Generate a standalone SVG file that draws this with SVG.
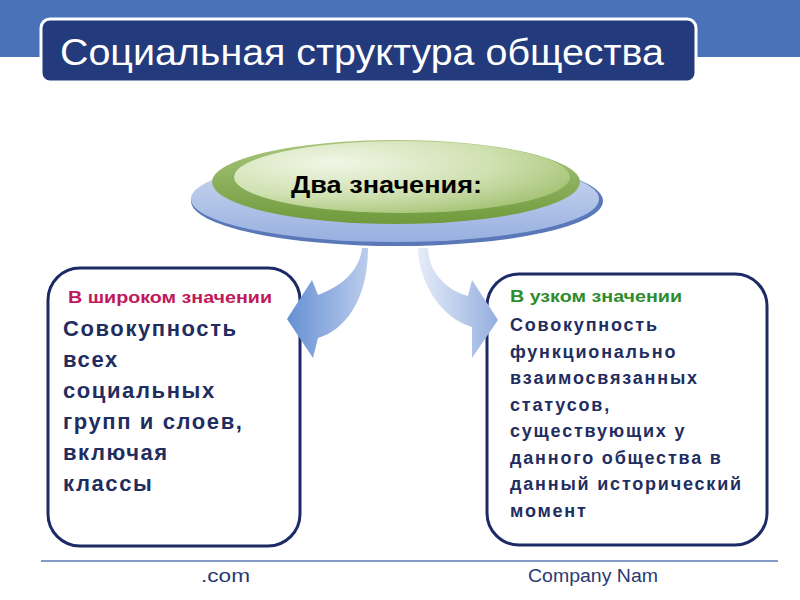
<svg xmlns="http://www.w3.org/2000/svg" width="800" height="600" viewBox="0 0 800 600">
<defs>
<style>
.t{font-family:"Liberation Sans",Arial,sans-serif;}
.b{font-weight:bold;}
.body{fill:#1f2d5f;font-weight:bold;font-family:"Liberation Sans",Arial,sans-serif;}
.box{fill:#ffffff;stroke:#1c2a66;stroke-width:3;}
.foot{fill:#2b3a70;font-family:"Liberation Sans",Arial,sans-serif;font-size:18px;}
</style>
<linearGradient id="gBlue" x1="0" y1="0" x2="0" y2="1">
<stop offset="0" stop-color="#cfdaf1"/>
<stop offset="1" stop-color="#98b0e0"/>
</linearGradient>
<linearGradient id="gGreenRim" x1="0" y1="0" x2="0" y2="1">
<stop offset="0" stop-color="#a9c67d"/>
<stop offset="1" stop-color="#6f9a3c"/>
</linearGradient>
<radialGradient id="gGreenIn" cx="0.3" cy="0.3" r="0.8">
<stop offset="0" stop-color="#f1f6e6"/>
<stop offset="0.6" stop-color="#cfe0b0"/>
<stop offset="1" stop-color="#a3c273"/>
</radialGradient>
<linearGradient id="gArrL" x1="0" y1="0" x2="1" y2="0">
<stop offset="0" stop-color="#6690d4"/>
<stop offset="1" stop-color="#bccdec"/>
</linearGradient>
<linearGradient id="gArrR" x1="0" y1="0" x2="1" y2="0">
<stop offset="0" stop-color="#e6ecf8"/>
<stop offset="1" stop-color="#95afe0"/>
</linearGradient>
</defs>

<rect x="0" y="0" width="800" height="57" fill="#4a72b8"/>

<g id="title">
<rect x="41" y="19" width="655" height="63" rx="9" fill="#233a7c" stroke="#ffffff" stroke-width="3"/>
<text class="t" x="60" y="65" font-size="36" fill="#ffffff" textLength="604" lengthAdjust="spacingAndGlyphs">Социальная структура общества</text>
</g>

<g id="center">
<ellipse cx="397" cy="201" rx="206" ry="45" fill="#5a78b8"/>
<ellipse cx="395" cy="199" rx="204" ry="43" fill="url(#gBlue)"/>
<ellipse cx="396" cy="182" rx="184" ry="42" fill="url(#gGreenRim)"/>
<ellipse cx="402" cy="177" rx="168" ry="36" fill="url(#gGreenIn)"/>
<text class="t b" x="291" y="193" font-size="24" fill="#000000" textLength="191" lengthAdjust="spacingAndGlyphs">Два значения:</text>
</g>

<g id="left">
<rect class="box" x="48" y="268" width="252" height="278" rx="32"/>
<text class="t b" x="68" y="303" font-size="16" fill="#c0185a" textLength="204" lengthAdjust="spacingAndGlyphs">В широком значении</text>
<text class="body" font-size="22" letter-spacing="1.6">
<tspan x="63" y="336">Совокупность</tspan>
<tspan x="63" y="367">всех</tspan>
<tspan x="63" y="398">социальных</tspan>
<tspan x="63" y="429">групп и слоев,</tspan>
<tspan x="63" y="460">включая</tspan>
<tspan x="63" y="491">классы</tspan>
</text>
</g>

<g id="right">
<rect class="box" x="487" y="274" width="280" height="271" rx="32"/>
<text class="t b" x="510" y="302" font-size="16" fill="#2e8b2e" textLength="172" lengthAdjust="spacingAndGlyphs">В узком значении</text>
<text class="body" font-size="18" letter-spacing="1.8">
<tspan x="510" y="331">Совокупность</tspan>
<tspan x="510" y="357.5">функционально</tspan>
<tspan x="510" y="384">взаимосвязанных</tspan>
<tspan x="510" y="410.5">статусов,</tspan>
<tspan x="510" y="437">существующих у</tspan>
<tspan x="510" y="463.5">данного общества в</tspan>
<tspan x="510" y="490">данный исторический</tspan>
<tspan x="510" y="516.5">момент</tspan>
</text>
</g>

<g id="connectors">
<path d="M362,248 C360,268 345,285 318,295 L312,280 L287,319 L313,358 L318,338 C345,330 368,300 368,248 Z" fill="url(#gArrL)"/>
<path d="M418,248 C418,280 440,318 472,327 L472,358 L498,320 L472,280 L468,296 C445,290 428,270 428,248 Z" fill="url(#gArrR)"/>
</g>

<g id="footer">
<line x1="41" y1="561" x2="778" y2="561" stroke="#5a78b0" stroke-width="1.5"/>
<text class="foot" x="201" y="582" textLength="49" lengthAdjust="spacingAndGlyphs">.com</text>
<text class="foot" x="528" y="582" textLength="130" lengthAdjust="spacingAndGlyphs">Company Nam</text>
</g>
</svg>
